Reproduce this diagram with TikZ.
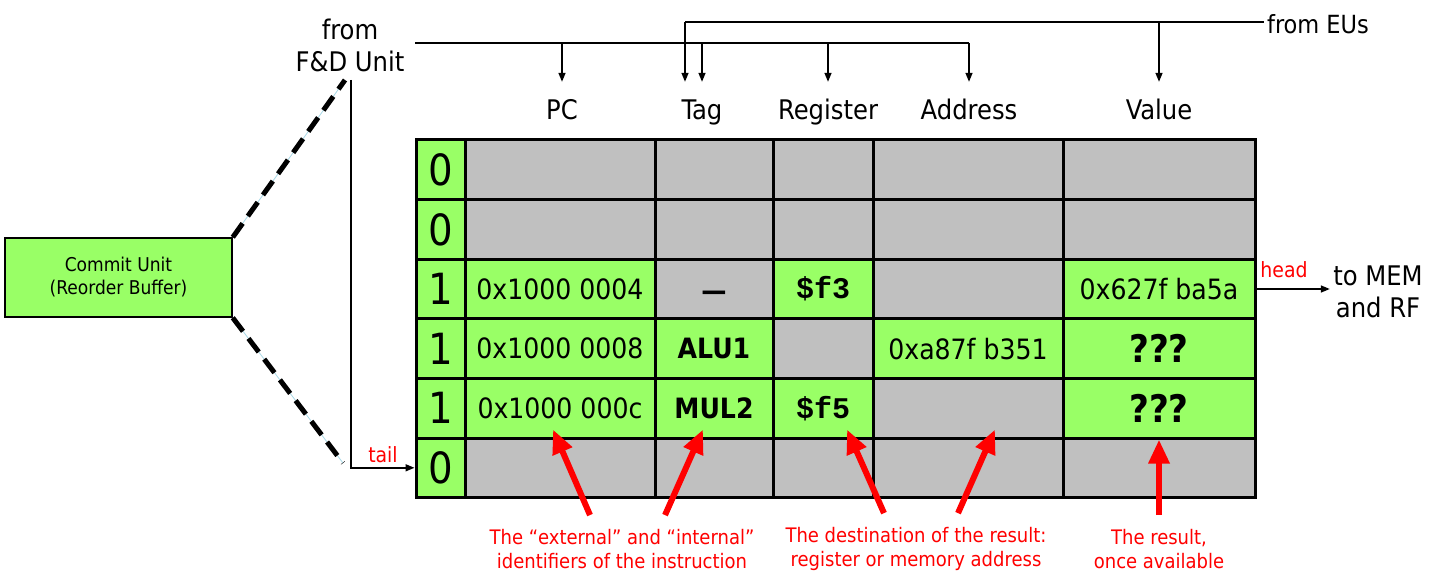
\documentclass[tikz,border=0pt]{standalone}
\usepackage{fontspec}
\setmainfont{DejaVu Sans Condensed}
\setmonofont{Liberation Mono}
\usetikzlibrary{arrows.meta}
\definecolor{robgreen}{HTML}{99FF66}
\definecolor{robgray}{HTML}{C0C0C0}
\definecolor{notered}{HTML}{FF0000}
\definecolor{linkblue}{HTML}{A8D8E6}

\begin{document}
\begin{tikzpicture}[x=1pt,y=-1pt,>={Triangle[length=9pt,width=7pt]},
  every node/.style={font=\fontsize{27}{32}\selectfont},
  cell/.style={draw=black,line width=3pt,minimum height=59.6pt,inner sep=0pt,font=\fontsize{28}{32}\selectfont},
  full/.style={cell,fill=robgreen},
  free/.style={cell,fill=robgray},
  wv/.style={minimum width=49pt,font=\fontsize{43}{46}\selectfont},
  wpc/.style={minimum width=190pt},
  wtag/.style={minimum width=118pt},
  wreg/.style={minimum width=100pt},
  waddr/.style={minimum width=190pt},
  wval/.style={minimum width=192pt},
  hdr/.style={text height=20pt,text depth=6pt,inner sep=0pt},
  wire/.style={line width=1.5pt},
  feed/.style={wire,->,shorten >=18pt},
  zoomline/.style={line width=5pt,dash pattern=on 17pt off 9pt},
  glow/.style={draw=linkblue,line width=0.8pt},
  redlbl/.style={text=notered,font=\fontsize{21}{24}\selectfont},
  note/.style={draw=notered,line width=6pt,-{Triangle[length=24pt,width=20pt]}},
  notetxt/.style={redlbl,align=center,inner sep=0pt},
  unit/.style={draw=black,line width=1.5pt,fill=robgreen,minimum width=227pt,minimum height=79pt,
    inner sep=0pt,align=center,font=\fontsize{19}{23}\selectfont}]
  \useasboundingbox (0,0) rectangle (1434,580);

  % commit unit and zoom lines
  \node[unit] (cu) at (118.5,277.5) {Commit Unit\\(Reorder Buffer)};
  \coordinate (zt) at (345,80);
  \coordinate (zb) at (343,463);
  \draw[glow] (cu.north east) -- (zt);
  \draw[glow] (cu.south east) -- (zb);
  \draw[zoomline] (cu.north east) -- (zt);
  \draw[zoomline] (cu.south east) -- (zb);

  % headers
  \node[hdr] (hPC) at (562,113) {PC};
  \node[hdr] (hTag) at (702,113) {Tag};
  \node[hdr] (hReg) at (828,113) {Register};
  \node[hdr] (hAddr) at (969,113) {Address};
  \node[hdr] (hVal) at (1159,113) {Value};

  % empty rows
  \foreach \r/\y in {0/169.8,1/229.4,5/467.8} {
    \node[full,wv] (v\r) at (440.5,\y) {0};
    \node[free,wpc] (pc\r) at (560,\y) {};
    \node[free,wtag] (tag\r) at (714,\y) {};
    \node[free,wreg] (reg\r) at (823,\y) {};
    \node[free,waddr] (addr\r) at (968,\y) {};
    \node[free,wval] (val\r) at (1159,\y) {};
  }
  \node[full,wv] (v2) at (440.5,289) {1};
  \node[full,wpc] (pc2) at (560,289) {0x1000 0004};
  \node[free,wtag] (tag2) at (714,289) {\raisebox{-11pt}[0pt][0pt]{\textbf{—}}};
  \node[full,wreg] (reg2) at (823,289) {\fontsize{30}{34}\selectfont\ttfamily\bfseries \$f3};
  \node[free,waddr] (addr2) at (968,289) {};
  \node[full,wval] (val2) at (1159,289) {0x627f ba5a};
  \node[full,wv] (v3) at (440.5,348.6) {1};
  \node[full,wpc] (pc3) at (560,348.6) {0x1000 0008};
  \node[full,wtag] (tag3) at (714,348.6) {\textbf{ALU1}};
  \node[free,wreg] (reg3) at (823,348.6) {};
  \node[full,waddr] (addr3) at (968,348.6) {0xa87f b351};
  \node[full,wval] (val3) at (1159,348.6) {\fontsize{38}{40}\selectfont\bfseries ???};
  \node[full,wv] (v4) at (440.5,408.2) {1};
  \node[full,wpc] (pc4) at (560,408.2) {0x1000 000c};
  \node[full,wtag] (tag4) at (714,408.2) {\textbf{MUL2}};
  \node[full,wreg] (reg4) at (823,408.2) {\fontsize{30}{34}\selectfont\ttfamily\bfseries \$f5};
  \node[free,waddr] (addr4) at (968,408.2) {};
  \node[full,wval] (val4) at (1159,408.2) {\fontsize{38}{40}\selectfont\bfseries ???};

  % inputs from F&D unit
  \node[align=center,inner sep=0pt] (fd) at (350,45) {from\\F\&D Unit};
  \coordinate (fdl) at (415,43);
  \draw[wire] (fdl) -- (fdl -| hAddr.north);
  \foreach \h in {hPC,hTag,hReg,hAddr}
    \draw[feed] (\h.north |- fdl) -- (\h.north);

  % inputs from EUs
  \node[font=\fontsize{25}{30}\selectfont] (eu) at (1318,24) {from EUs};
  \coordinate (eul) at (685,22);
  \draw[wire] (eul) -- (eul -| eu.west);
  \draw[feed] (eul) -- (eul |- hTag.north);
  \draw[feed] (hVal.north |- eul) -- (hVal.north);

  % tail and head
  \coordinate (tt) at (351,80);
  \draw[wire,->] (tt) |- (v5.west);
  \node[redlbl] (tl) at (383,455) {tail};
  \node[align=center] (mem) at (1378,292) {to MEM\\and RF};
  \draw[wire,->] (val2.east) -- (val2.east -| mem.west);
  \node[redlbl] (hd) at (1284,270) {head};

  % annotations
  \node[notetxt,font=\fontsize{20}{24}\selectfont] (nid) at (622,549) {The “external” and “internal”\\identifiers of the instruction};
  \node[notetxt,font=\fontsize{20}{24}\selectfont] (ndest) at (916,549) {The destination of the result:\\register or memory address};
  \node[notetxt,font=\fontsize{20}{24}\selectfont] (nres) at (1159,549) {The result,\\once available};
  \draw[note] ([xshift=-32pt,yshift=14pt]nid.north) -- ([shift={(-7pt,10pt)}]pc4.south);
  \draw[note] ([xshift=43pt,yshift=14pt]nid.north) -- ([shift={(-11pt,10pt)}]tag4.south);
  \draw[note] ([xshift=-32pt,yshift=14pt]ndest.north) -- ([shift={(24pt,10pt)}]reg4.south);
  \draw[note] ([xshift=42pt,yshift=14pt]ndest.north) -- ([shift={(27pt,10pt)}]addr4.south);
  \draw[note] ([yshift=14pt]nres.north) -- (val4.south);
\end{tikzpicture}
\end{document}
